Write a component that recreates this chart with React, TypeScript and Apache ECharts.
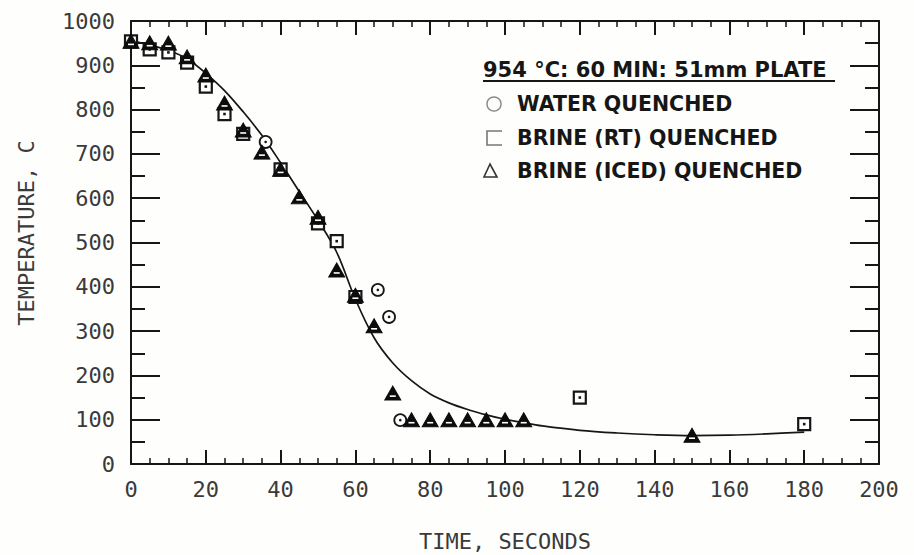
import React, { useEffect, useRef } from "react";
import * as echarts from "echarts";

// Fitted cooling curve (time s, temperature °C)
const curveTime = [0, 5, 10, 15, 20, 25, 30, 35, 40, 45, 50, 55, 60, 65, 70, 75, 80, 85, 90, 95, 100, 105, 110, 120, 130, 140, 150, 160, 170, 180];
const curveTemp = [955, 946, 933, 915, 882, 843, 795, 742, 680, 615, 550, 478, 372, 285, 228, 188, 158, 138, 123, 111, 101, 93, 86, 76, 70, 66, 64, 65, 68, 72];

// Water quenched
const waterTime = [36, 66, 69, 72];
const waterTemp = [727, 393, 332, 99];

// Brine (RT) quenched
const brineRtTime = [0, 5, 10, 15, 20, 25, 30, 40, 50, 55, 60, 120, 180];
const brineRtTemp = [954, 936, 929, 906, 852, 790, 745, 665, 543, 503, 377, 150, 90];

// Brine (iced) quenched
const brineIcedTime = [0, 5, 10, 15, 20, 25, 30, 35, 40, 45, 50, 55, 60, 65, 70, 75, 80, 85, 90, 95, 100, 105, 150];
const brineIcedTemp = [954, 951, 950, 919, 878, 815, 754, 704, 665, 603, 557, 438, 381, 312, 160, 100, 100, 100, 100, 100, 100, 100, 65];

const xTicks = [0, 20, 40, 60, 80, 100, 120, 140, 160, 180, 200];
const yTicks = [0, 100, 200, 300, 400, 500, 600, 700, 800, 900, 1000];

const legendTitle = "954 °C: 60 MIN: 51mm PLATE";
const legendNames = ["WATER QUENCHED", "BRINE (RT) QUENCHED", "BRINE (ICED) QUENCHED"];
const xTitle = "TIME, SECONDS";
const yTitle = "TEMPERATURE, C";

const pairs = (xs: number[], ys: number[]) => xs.map((x, i) => [x, ys[i]]);

const INK = "#161616";
const MONO = '"DejaVu Sans Mono", monospace';
const SANS = '"DejaVu Sans", sans-serif';

export default function App() {
  const ref = useRef<HTMLDivElement>(null);

  useEffect(() => {
    document.body.style.margin = "0";
    if (!ref.current) return;
    const chart = echarts.init(ref.current, null, { renderer: "svg" });

    const xBase = {
      type: "value" as const,
      min: xTicks[0],
      max: xTicks[xTicks.length - 1],
      interval: xTicks[1] - xTicks[0],
      splitLine: { show: false },
      axisLine: { show: true, onZero: false, lineStyle: { color: INK, width: 2 } },
      axisTick: { show: true, inside: true, length: 14, lineStyle: { color: INK, width: 2 } },
      minorTick: { show: true, splitNumber: 4, length: 6, lineStyle: { color: INK, width: 1.5 } },
    };
    const yBase = {
      type: "value" as const,
      min: yTicks[0],
      max: yTicks[yTicks.length - 1],
      interval: yTicks[1] - yTicks[0],
      splitLine: { show: false },
      axisLine: { show: true, onZero: false, lineStyle: { color: INK, width: 2 } },
      axisTick: { show: true, inside: true, length: 29, lineStyle: { color: INK, width: 2 } },
      minorTick: { show: true, splitNumber: 2, length: 14, lineStyle: { color: INK, width: 2 } },
    };
    const tickLabel = {
      fontFamily: MONO,
      fontSize: 22,
      color: "#3a3a3a",
      formatter: (v: number) => String(v),
    };

    const legendX = 483;
    const itemX = 517;
    const itemY = [104, 138, 171];

    chart.setOption({
      animation: false,
      backgroundColor: "#fefefc",
      grid: { left: 131, right: 35, top: 21, bottom: 91 },
      xAxis: [
        { ...xBase, position: "bottom", axisLabel: { ...tickLabel, margin: 14 } },
        { ...xBase, position: "top", axisLabel: { show: false } },
      ],
      yAxis: [
        { ...yBase, position: "left", axisLabel: { ...tickLabel, margin: 16 } },
        { ...yBase, position: "right", axisLabel: { show: false } },
      ],
      series: [
        {
          type: "line",
          data: pairs(curveTime, curveTemp),
          smooth: 0.35,
          showSymbol: false,
          lineStyle: { color: INK, width: 1.7 },
          z: 2,
          silent: true,
        },
        {
          name: legendNames[0],
          type: "scatter",
          data: pairs(waterTime, waterTemp),
          symbol: "circle",
          symbolSize: 12,
          itemStyle: { color: "#ffffff", borderColor: INK, borderWidth: 1.8, opacity: 1 },
          z: 3,
        },
        {
          type: "scatter",
          data: pairs(waterTime, waterTemp),
          symbol: "circle",
          symbolSize: 2.6,
          itemStyle: { color: INK, opacity: 1 },
          z: 4,
        },
        {
          name: legendNames[1],
          type: "scatter",
          data: pairs(brineRtTime, brineRtTemp),
          symbol: "rect",
          symbolSize: 12,
          itemStyle: { color: "#ffffff", borderColor: INK, borderWidth: 2.2, opacity: 1 },
          z: 5,
        },
        {
          type: "scatter",
          data: pairs(brineRtTime, brineRtTemp),
          symbol: "rect",
          symbolSize: 2.6,
          itemStyle: { color: INK, opacity: 1 },
          z: 6,
        },
        {
          name: legendNames[2],
          type: "scatter",
          data: pairs(brineIcedTime, brineIcedTemp),
          symbol: "triangle",
          symbolSize: [16, 14],
          itemStyle: { color: "#0c0c0c", borderColor: "#0c0c0c", borderWidth: 1, opacity: 1 },
          z: 7,
        },
        {
          type: "scatter",
          data: pairs(brineIcedTime, brineIcedTemp),
          symbol: "rect",
          symbolSize: [6, 1.6],
          symbolOffset: [0, 3],
          itemStyle: { color: "#ffffff", opacity: 1 },
          z: 8,
        },
      ],
      graphic: [
        {
          type: "text",
          x: legendX,
          y: 70,
          style: {
            text: legendTitle,
            fontFamily: SANS,
            fontWeight: "bold",
            fontSize: 21,
            fill: INK,
            align: "left",
            verticalAlign: "middle",
          },
        },
        {
          type: "line",
          shape: { x1: legendX, y1: 81, x2: 835, y2: 81 },
          style: { stroke: INK, lineWidth: 2 },
        },
        ...legendNames.map((name, i) => ({
          type: "text",
          x: itemX,
          y: itemY[i],
          style: {
            text: name,
            fontFamily: SANS,
            fontWeight: "bold",
            fontSize: 20.5,
            fill: INK,
            align: "left",
            verticalAlign: "middle",
          },
        })),
        {
          type: "circle",
          shape: { cx: 494, cy: itemY[0], r: 7 },
          style: { fill: "none", stroke: "#8a8a8a", lineWidth: 1.5 },
        },
        {
          type: "polyline",
          shape: { points: [[502, itemY[1] - 7], [487, itemY[1] - 7], [487, itemY[1] + 7], [502, itemY[1] + 7]] },
          style: { fill: "none", stroke: "#777", lineWidth: 1.6 },
        },
        {
          type: "polygon",
          shape: { points: [[490, itemY[2] - 7], [484, itemY[2] + 6], [497, itemY[2] + 6]] },
          style: { fill: "none", stroke: "#333", lineWidth: 1.6 },
        },
        {
          type: "text",
          x: 505,
          y: 541,
          style: {
            text: xTitle,
            fontFamily: MONO,
            fontSize: 22,
            fill: "#3a3a3a",
            align: "center",
            verticalAlign: "middle",
          },
        },
        {
          type: "text",
          x: 26,
          y: 233,
          rotation: Math.PI / 2,
          style: {
            text: yTitle,
            fontFamily: MONO,
            fontSize: 22,
            fill: "#3a3a3a",
            align: "center",
            verticalAlign: "middle",
          },
        },
      ],
    });

    return () => chart.dispose();
  }, []);

  return <div ref={ref} style={{ width: 914, height: 555 }} />;
}
